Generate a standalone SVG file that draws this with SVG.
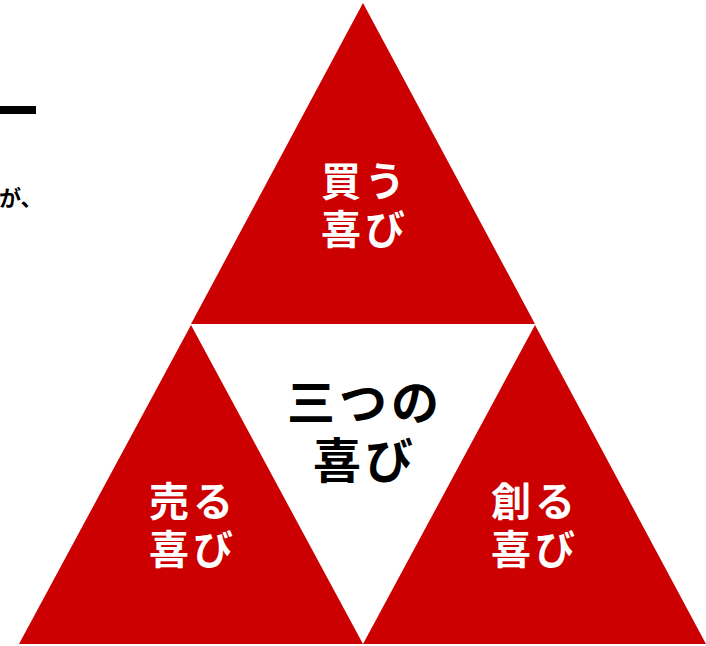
<svg xmlns="http://www.w3.org/2000/svg" width="706" height="646" viewBox="0 0 706 646">
<style>
.tri{fill:#cc0000}
.w{fill:#ffffff;font-family:"Noto Sans CJK JP","Noto Sans",sans-serif;font-weight:700;font-size:40px;text-anchor:middle;letter-spacing:4px}
.b{fill:#000000;font-family:"Noto Sans CJK JP","Noto Sans",sans-serif;font-weight:700;font-size:48px;text-anchor:middle;letter-spacing:4px}
.side{fill:#000000;font-family:"Noto Sans CJK JP","Noto Sans",sans-serif;font-weight:700;font-size:22px}
</style>
<rect width="706" height="646" fill="#ffffff"/>
<rect x="0" y="106" width="36" height="8" fill="#000000"/>
<text class="side" x="-1" y="206">が、</text>
<g id="top">
<polygon class="tri" points="363,3 191,324 535,324"/>
<text class="w"><tspan x="365" y="196">買う</tspan><tspan x="365" y="244">喜び</tspan></text>
</g>
<g id="left">
<polygon class="tri" points="191,325 19,644 363,644"/>
<text class="w"><tspan x="193" y="516">売る</tspan><tspan x="193" y="564">喜び</tspan></text>
</g>
<g id="right">
<polygon class="tri" points="535,325 363,644 706,644"/>
<text class="w"><tspan x="535" y="516">創る</tspan><tspan x="535" y="564">喜び</tspan></text>
</g>
<g id="center">
<text class="b"><tspan x="365" y="420">三つの</tspan><tspan x="365" y="478">喜び</tspan></text>
</g>
<g id="connectors"></g>
</svg>
